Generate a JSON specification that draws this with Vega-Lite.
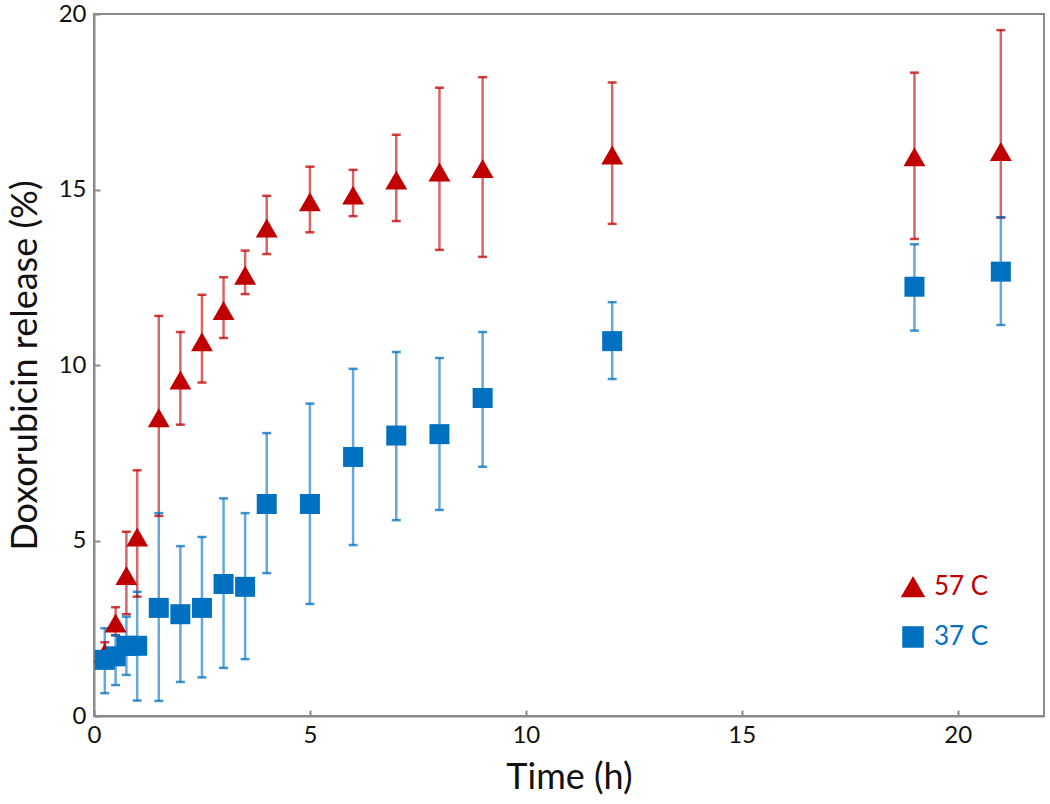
{
  "$schema": "https://vega.github.io/schema/vega-lite/v6.json",
  "autosize": {"type": "none"},
  "padding": {"left": 94, "top": 14, "right": 6, "bottom": 88},
  "width": 950,
  "height": 702,
  "background": "white",
  "config": {
    "font": "Lato",
    "view": {"stroke": "#8a8a8a", "strokeWidth": 2},
    "axis": {"grid": false, "domainColor": "#8a8a8a", "domainWidth": 2, "tickColor": "#8a8a8a", "tickWidth": 2, "labelColor": "#111", "titleColor": "#111", "labelFontSize": 24, "titleFontSize": 36, "titleFontWeight": "normal", "labelFont": "Lato", "titleFont": "Lato"},
    "legend": {"labelFont": "Lato"}
  },
  "data": {"values": [
    {"t": 0.25, "y": 1.8, "lo": 1.5, "hi": 2.1, "s": "57 C"},
    {"t": 0.5, "y": 2.65, "lo": 2.3, "hi": 3.1, "s": "57 C"},
    {"t": 0.75, "y": 4.0, "lo": 2.9, "hi": 5.25, "s": "57 C"},
    {"t": 1, "y": 5.1, "lo": 3.4, "hi": 7.0, "s": "57 C"},
    {"t": 1.5, "y": 8.5, "lo": 5.7, "hi": 11.4, "s": "57 C"},
    {"t": 2, "y": 9.57, "lo": 8.3, "hi": 10.94, "s": "57 C"},
    {"t": 2.5, "y": 10.66, "lo": 9.5, "hi": 12.0, "s": "57 C"},
    {"t": 3, "y": 11.55, "lo": 10.77, "hi": 12.5, "s": "57 C"},
    {"t": 3.5, "y": 12.56, "lo": 12.02, "hi": 13.26, "s": "57 C"},
    {"t": 4, "y": 13.9, "lo": 13.16, "hi": 14.82, "s": "57 C"},
    {"t": 5, "y": 14.65, "lo": 13.78, "hi": 15.65, "s": "57 C"},
    {"t": 6, "y": 14.84, "lo": 14.24, "hi": 15.56, "s": "57 C"},
    {"t": 7, "y": 15.27, "lo": 14.1, "hi": 16.56, "s": "57 C"},
    {"t": 8, "y": 15.5, "lo": 13.28, "hi": 17.9, "s": "57 C"},
    {"t": 9, "y": 15.6, "lo": 13.08, "hi": 18.2, "s": "57 C"},
    {"t": 12, "y": 15.98, "lo": 14.02, "hi": 18.05, "s": "57 C"},
    {"t": 19, "y": 15.93, "lo": 13.59, "hi": 18.33, "s": "57 C"},
    {"t": 21, "y": 16.08, "lo": 14.2, "hi": 19.54, "s": "57 C"},
    {"t": 0.25, "y": 1.6, "lo": 0.65, "hi": 2.5, "s": "37 C"},
    {"t": 0.5, "y": 1.7, "lo": 0.88, "hi": 2.3, "s": "37 C"},
    {"t": 0.75, "y": 2.0, "lo": 1.17, "hi": 2.83, "s": "37 C"},
    {"t": 1, "y": 2.0, "lo": 0.44, "hi": 3.54, "s": "37 C"},
    {"t": 1.5, "y": 3.08, "lo": 0.43, "hi": 5.78, "s": "37 C"},
    {"t": 2, "y": 2.9, "lo": 0.97, "hi": 4.84, "s": "37 C"},
    {"t": 2.5, "y": 3.08, "lo": 1.1, "hi": 5.1, "s": "37 C"},
    {"t": 3, "y": 3.76, "lo": 1.37, "hi": 6.2, "s": "37 C"},
    {"t": 3.5, "y": 3.68, "lo": 1.62, "hi": 5.78, "s": "37 C"},
    {"t": 4, "y": 6.04, "lo": 4.07, "hi": 8.06, "s": "37 C"},
    {"t": 5, "y": 6.04, "lo": 3.19, "hi": 8.9, "s": "37 C"},
    {"t": 6, "y": 7.38, "lo": 4.87, "hi": 9.89, "s": "37 C"},
    {"t": 7, "y": 7.99, "lo": 5.58, "hi": 10.37, "s": "37 C"},
    {"t": 8, "y": 8.03, "lo": 5.87, "hi": 10.2, "s": "37 C"},
    {"t": 9, "y": 9.06, "lo": 7.1, "hi": 10.94, "s": "37 C"},
    {"t": 12, "y": 10.68, "lo": 9.6, "hi": 11.79, "s": "37 C"},
    {"t": 19, "y": 12.23, "lo": 10.98, "hi": 13.44, "s": "37 C"},
    {"t": 21, "y": 12.66, "lo": 11.14, "hi": 14.21, "s": "37 C"}
  ]},
  "encoding": {
    "x": {"field": "t", "type": "quantitative", "title": "Time (h)",
      "scale": {"domain": [0, 22], "nice": false, "zero": false},
      "axis": {"values": [0, 5, 10, 15, 20], "tickSize": -6, "labelPadding": 13, "titlePadding": 13, "labelFlush": false}},
    "color": {"field": "s", "type": "nominal", "scale": {"domain": ["57 C", "37 C"], "range": ["#C00000", "#0070C0"]},
      "legend": {"orient": "none", "legendX": 806, "legendY": 560, "title": null, "labelFontSize": 26, "symbolSize": 380, "symbolOpacity": 1, "rowPadding": 24, "labelOffset": 8,
        "labelColor": {"expr": "datum.value === '57 C' ? '#C00000' : '#0070C0'"}}}
  },
  "layer": [
    {
      "mark": {"type": "rule", "strokeWidth": 2.5, "opacity": 0.6},
      "encoding": {
        "y": {"field": "lo", "type": "quantitative", "title": "Doxorubicin release (%)",
          "scale": {"domain": [0, 20], "nice": false},
          "axis": {"values": [0, 5, 10, 15, 20], "tickSize": -6, "labelPadding": 14, "titlePadding": 14}},
        "y2": {"field": "hi"}
      }
    },
    {
      "mark": {"type": "tick", "orient": "horizontal", "size": 9, "thickness": 2.5, "opacity": 0.75},
      "encoding": {"y": {"field": "lo", "type": "quantitative"}}
    },
    {
      "mark": {"type": "tick", "orient": "horizontal", "size": 9, "thickness": 2.5, "opacity": 0.75},
      "encoding": {"y": {"field": "hi", "type": "quantitative"}}
    },
    {
      "mark": {"type": "point", "filled": true, "opacity": 1},
      "encoding": {
        "y": {"field": "y", "type": "quantitative"},
        "shape": {"field": "s", "type": "nominal", "scale": {"domain": ["57 C", "37 C"], "range": ["triangle-up", "square"]}},
        "size": {"field": "s", "type": "nominal", "scale": {"domain": ["57 C", "37 C"], "range": [480, 400]}, "legend": null}
      }
    }
  ]
}
